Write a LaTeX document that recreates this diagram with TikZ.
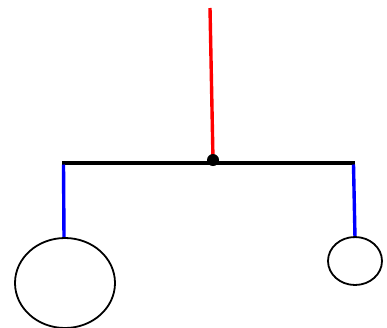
\documentclass[tikz,border=0pt]{standalone}
\begin{document}
\begin{tikzpicture}[x=1pt,y=-1pt,
  bar/.style={line width=3.6pt,black},
  string/.style={line width=3.4pt,blue},
  hook/.style={line width=3.4pt,red},
  weight/.style={draw=black,line width=1.8pt}]
\useasboundingbox (0,0) rectangle (387,327);
\coordinate (top) at (210,8);
\coordinate (pivot) at (213,160);
\coordinate (barL) at (62,163);
\coordinate (barR) at (355,163);
\coordinate (wl) at (64,238);
\coordinate (wr) at (355,238);
\draw[hook] (top) -- (pivot);
\draw[bar] (barL) -- (barR);
\draw[string] (63.5,164.5) -- (wl);
\draw[string] (353.5,164.5) -- (wr);
\fill[black] (pivot) circle (6);
\draw[weight] (65,283) ellipse (50 and 45);
\draw[weight] (355,261) ellipse (27 and 24);
\end{tikzpicture}
\end{document}
